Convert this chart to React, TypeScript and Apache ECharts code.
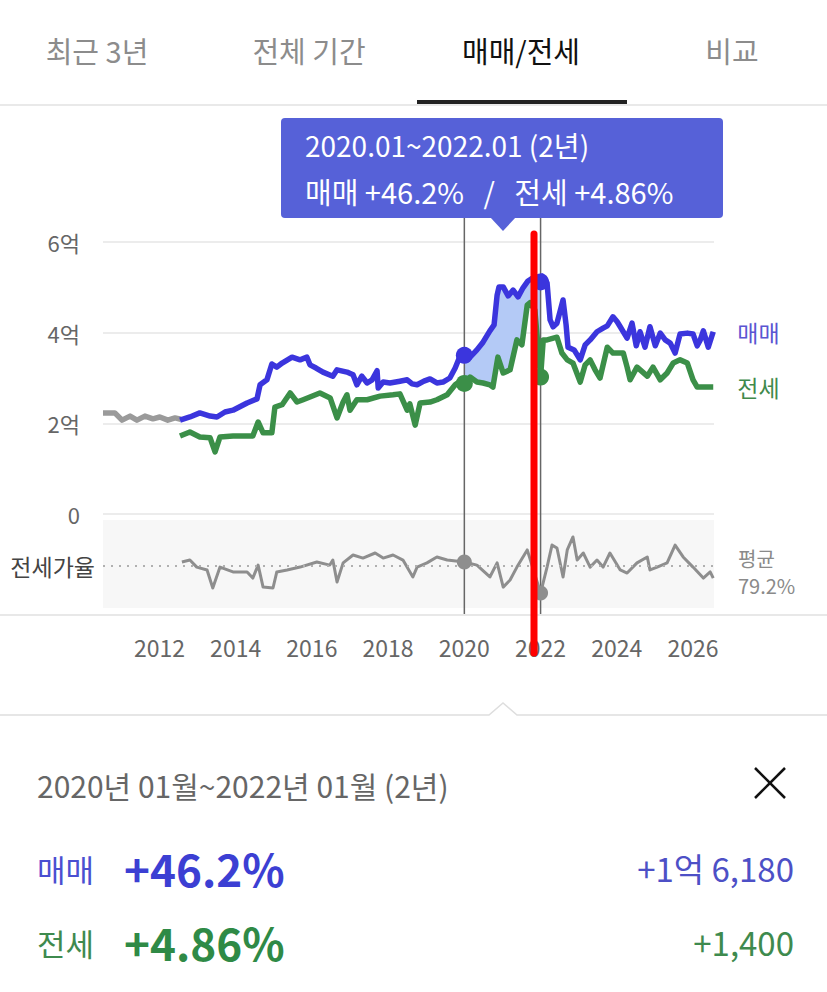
import React, { useEffect, useRef } from "react";
import * as echarts from "echarts";

// 매매 (sale price, 억) — [year, value]
const grayPre: [number, number][] = [
  [2010.52, 2.23], [2010.83, 2.23], [2011.02, 2.07], [2011.23, 2.16], [2011.41, 2.07],
  [2011.62, 2.16], [2011.83, 2.1], [2012.01, 2.14], [2012.22, 2.07], [2012.41, 2.12], [2012.56, 2.09],
];

const maemae: [number, number][] = [
  [2012.54, 2.07], [2012.8, 2.14], [2013.06, 2.23], [2013.33, 2.16], [2013.51, 2.14], [2013.72, 2.25],
  [2013.93, 2.29], [2014.3, 2.45], [2014.56, 2.54], [2014.64, 2.85], [2014.82, 2.96], [2014.95, 3.31],
  [2015.08, 3.24], [2015.22, 3.33], [2015.48, 3.46], [2015.69, 3.4], [2015.87, 3.46], [2015.95, 3.29],
  [2016.11, 3.22], [2016.29, 3.13], [2016.55, 3.04], [2016.66, 3.18], [2016.92, 3.13], [2017.08, 3.07],
  [2017.18, 2.85], [2017.31, 3.04], [2017.45, 2.89], [2017.58, 2.96], [2017.71, 3.16], [2017.74, 2.78],
  [2017.87, 2.91], [2018.05, 2.89], [2018.31, 2.93], [2018.5, 2.96], [2018.63, 2.87], [2018.76, 2.85],
  [2018.94, 2.93], [2019.1, 2.98], [2019.28, 2.89], [2019.44, 2.91], [2019.62, 3.0], [2019.76, 3.22],
  [2019.89, 3.49], [2020.0, 3.5], [2020.15, 3.46], [2020.33, 3.62], [2020.49, 3.79], [2020.67, 4.04],
  [2020.78, 4.17], [2020.86, 4.83], [2020.91, 5.01], [2021.02, 5.01], [2021.15, 4.81], [2021.28, 4.94],
  [2021.41, 4.79], [2021.54, 4.99], [2021.67, 5.14], [2021.8, 5.21], [2022.0, 5.12], [2022.04, 5.25],
  [2022.17, 5.1], [2022.25, 4.28], [2022.33, 4.13], [2022.43, 4.21], [2022.59, 4.72], [2022.67, 4.17],
  [2022.72, 3.68], [2022.88, 3.62], [2023.04, 3.4], [2023.17, 3.73], [2023.3, 3.84], [2023.48, 4.02],
  [2023.64, 4.1], [2023.75, 4.15], [2023.9, 4.35], [2024.01, 4.24], [2024.09, 4.13], [2024.27, 3.88],
  [2024.4, 4.21], [2024.51, 3.71], [2024.61, 4.02], [2024.74, 3.68], [2024.87, 4.13], [2025.01, 3.71],
  [2025.14, 3.99], [2025.27, 3.84], [2025.4, 3.77], [2025.53, 3.55], [2025.66, 3.97], [2025.85, 3.99],
  [2026.0, 3.97], [2026.11, 3.71], [2026.19, 3.84], [2026.27, 4.04], [2026.4, 3.68], [2026.53, 4.02],
];

// 전세 (jeonse, 억)
const jeonse: [number, number][] = [
  [2012.54, 1.72], [2012.8, 1.81], [2013.06, 1.7], [2013.33, 1.68], [2013.46, 1.37], [2013.59, 1.7],
  [2013.93, 1.72], [2014.45, 1.72], [2014.59, 2.03], [2014.72, 1.79], [2014.95, 1.79], [2015.03, 2.36],
  [2015.22, 2.41], [2015.43, 2.67], [2015.61, 2.47], [2015.77, 2.52], [2015.95, 2.58], [2016.21, 2.67],
  [2016.48, 2.56], [2016.66, 2.12], [2016.82, 2.47], [2016.92, 2.63], [2017.0, 2.29], [2017.18, 2.52],
  [2017.45, 2.52], [2017.79, 2.6], [2018.13, 2.63], [2018.31, 2.65], [2018.5, 2.29], [2018.57, 2.43],
  [2018.71, 1.96], [2018.84, 2.45], [2019.1, 2.47], [2019.28, 2.52], [2019.55, 2.63], [2019.76, 2.85],
  [2019.89, 2.93], [2020.0, 2.88], [2020.15, 3.02], [2020.33, 2.91], [2020.49, 2.89], [2020.67, 2.85],
  [2020.75, 2.8], [2020.88, 3.46], [2021.02, 3.11], [2021.2, 3.18], [2021.38, 3.84], [2021.51, 3.73],
  [2021.65, 4.61], [2021.72, 4.66], [2021.85, 4.5], [2022.0, 3.02], [2022.07, 3.84], [2022.17, 3.84],
  [2022.43, 3.9], [2022.56, 3.55], [2022.7, 3.4], [2022.85, 3.33], [2023.04, 2.91], [2023.17, 3.29],
  [2023.3, 3.4], [2023.43, 3.18], [2023.56, 3.0], [2023.75, 3.68], [2023.9, 3.55], [2024.17, 3.55],
  [2024.27, 3.24], [2024.35, 2.96], [2024.53, 3.24], [2024.8, 3.04], [2024.95, 3.24], [2025.14, 2.96],
  [2025.32, 3.11], [2025.48, 3.33], [2025.66, 3.4], [2025.85, 3.33], [2026.0, 2.96], [2026.11, 2.8],
  [2026.53, 2.8],
];

// 전세가율 (%)
const ratio: [number, number][] = [
  [2012.59, 80.9], [2012.8, 81.8], [2012.98, 78.6], [2013.25, 77.3], [2013.4, 69.1], [2013.59, 78.6],
  [2013.93, 76.4], [2014.3, 76.4], [2014.45, 73.6], [2014.59, 79.5], [2014.72, 69.5], [2014.98, 69.1],
  [2015.08, 76.4], [2015.35, 77.3], [2015.69, 78.6], [2016.13, 80.9], [2016.47, 79.5], [2016.55, 81.8],
  [2016.66, 71.8], [2016.82, 80.5], [2017.08, 84.1], [2017.34, 82.7], [2017.66, 85.0], [2017.87, 82.7],
  [2018.13, 84.1], [2018.39, 81.8], [2018.65, 74.1], [2018.76, 78.6], [2019.02, 80.5], [2019.28, 83.2],
  [2019.55, 81.8], [2020.0, 80.9], [2020.33, 79.5], [2020.67, 74.1], [2020.86, 80.5], [2021.02, 69.5],
  [2021.2, 72.7], [2021.38, 78.6], [2021.65, 86.4], [2022.0, 66.8], [2022.17, 78.6], [2022.3, 88.6],
  [2022.43, 87.3], [2022.59, 74.1], [2022.7, 86.4], [2022.85, 92.3], [2022.96, 81.8], [2023.12, 85.0],
  [2023.3, 78.6], [2023.48, 81.8], [2023.64, 78.6], [2023.82, 85.0], [2024.09, 77.3], [2024.27, 75.9],
  [2024.53, 80.5], [2024.8, 83.2], [2024.87, 77.3], [2025.06, 78.6], [2025.32, 80.5], [2025.53, 88.6],
  [2025.74, 83.2], [2026.0, 78.6], [2026.27, 73.6], [2026.45, 76.4], [2026.53, 73.6],
];

const xLabels = [2012, 2014, 2016, 2018, 2020, 2022, 2024, 2026];
const yLabels = [0, 2, 4, 6];
const ratioAvg = 79.2;
const rangeStart = 2020.0;
const rangeEnd = 2022.0;
const tabs = ["최근 3년", "전체 기간", "매매/전세", "비교"];
const activeTab = 2;

const FONT = "'Noto Sans CJK KR', 'Noto Sans', sans-serif";
const BLUE = "#3b35dd";
const GREEN = "#3b8f48";
const GRAY = "#8e8e8e";

const valueAt = (arr: [number, number][], x: number) => arr.find((p) => p[0] === x)![1];

export default function App() {
  const ref = useRef<HTMLDivElement>(null);
  useEffect(() => {
    document.body.style.margin = "0";
    const chart = echarts.init(ref.current!, null, { renderer: "svg" });
    const inRange = (p: [number, number]) => p[0] >= rangeStart && p[0] <= rangeEnd;
    const option: any = {
      animation: false,
      textStyle: { fontFamily: FONT },
      grid: [
        { left: 103, right: 113, top: 242, height: 272 },
        { left: 103, right: 113, top: 520, height: 88, show: true, backgroundColor: "#f7f7f7", borderWidth: 0 },
      ],
      xAxis: [
        {
          gridIndex: 0, type: "value", min: 2010.52, max: 2026.55,
          axisLine: { show: false }, axisTick: { show: false }, axisLabel: { show: false }, splitLine: { show: false },
        },
        {
          gridIndex: 1, type: "value", min: 2010.52, max: 2026.55,
          axisLine: { show: false }, axisTick: { show: false }, splitLine: { show: false },
          axisLabel: {
            customValues: xLabels, formatter: (v: number) => String(v),
            color: "#666", fontSize: 23, margin: 27, fontFamily: FONT,
          },
        },
      ],
      yAxis: [
        {
          gridIndex: 0, type: "value", min: 0, max: 6, interval: 2,
          axisLine: { show: false }, axisTick: { show: false },
          splitLine: { lineStyle: { color: "#e6e6e6", width: 1.5 } },
          axisLabel: {
            customValues: yLabels,
            formatter: (v: number) => (v === 0 ? "0" : v + "억"),
            color: "#666", fontSize: 22, margin: 23, fontFamily: FONT,
          },
        },
        {
          gridIndex: 1, type: "value", min: 60, max: 100,
          axisLine: { show: false }, axisTick: { show: false }, splitLine: { show: false },
          axisLabel: {
            customValues: [ratioAvg], formatter: () => "전세가율",
            color: "#444", fontSize: 23, margin: 8, fontFamily: FONT,
          },
        },
      ],
      series: [
        {
          type: "custom", xAxisIndex: 0, yAxisIndex: 0, z: 1, silent: true,
          data: [[2021, 4]],
          renderItem: (_p: any, api: any) => {
            const top = maemae.filter(inRange).map((p) => api.coord(p));
            const bottom = jeonse.filter(inRange).reverse().map((p) => api.coord(p));
            return { type: "polygon", shape: { points: top.concat(bottom) }, style: { fill: "#b4caf6" } };
          },
        },
        {
          type: "line", data: grayPre, showSymbol: false, z: 3,
          lineStyle: { color: "#9a9a9a", width: 5.5, join: "round" },
        },
        {
          type: "line", data: jeonse, showSymbol: false, z: 4,
          lineStyle: { color: GREEN, width: 5.5, join: "round" }, itemStyle: { color: GREEN },
          endLabel: { show: true, formatter: "전세", color: "#3f8a4c", fontSize: 23, distance: 24, fontFamily: FONT },
        },
        {
          type: "line", data: maemae, showSymbol: false, z: 5,
          lineStyle: { color: BLUE, width: 5.5, join: "round" }, itemStyle: { color: BLUE },
          endLabel: { show: true, formatter: "매매", color: "#5a55d2", fontSize: 23, distance: 24, fontFamily: FONT },
        },
        {
          type: "scatter", z: 6, symbolSize: 17, itemStyle: { color: BLUE, opacity: 1 },
          data: [[rangeStart, valueAt(maemae, rangeStart)], [rangeEnd, valueAt(maemae, rangeEnd)]],
        },
        {
          type: "scatter", z: 6, symbolSize: 17, itemStyle: { color: GREEN, opacity: 1 },
          data: [[rangeStart, valueAt(jeonse, rangeStart)], [rangeEnd, valueAt(jeonse, rangeEnd)]],
        },
        {
          type: "line", xAxisIndex: 1, yAxisIndex: 1, data: ratio, showSymbol: false, z: 4,
          lineStyle: { color: GRAY, width: 3, join: "round" },
          markLine: {
            silent: true, symbol: "none",
            lineStyle: { color: "#b0b0b0", type: [2, 6], width: 2 },
            data: [{ yAxis: ratioAvg }],
            label: { show: false },
          },
        },
        {
          type: "scatter", xAxisIndex: 1, yAxisIndex: 1, z: 6, symbolSize: 15, itemStyle: { color: GRAY, opacity: 1 },
          data: [[rangeStart, valueAt(ratio, rangeStart)], [rangeEnd, valueAt(ratio, rangeEnd)]],
        },
      ],
    };
    chart.setOption(option);

    const x0 = chart.convertToPixel({ xAxisIndex: 0 }, rangeStart) as number;
    const x1 = chart.convertToPixel({ xAxisIndex: 0 }, rangeEnd) as number;
    const xEnd = chart.convertToPixel({ xAxisIndex: 1 }, 2026.55) as number;
    const yAvg = chart.convertToPixel({ yAxisIndex: 1 }, ratioAvg) as number;

    const txt = (x: number, y: number, text: string, size: number, fill: string, extra: any = {}) => ({
      type: "text", x, y,
      style: { text, fontSize: size, fill, fontFamily: FONT, verticalAlign: "middle", textAlign: "left", ...extra },
    });

    const tabX = [97, 309, 521, 732];
    const graphic: any[] = [
      ...tabs.map((t, i) =>
        txt(tabX[i], 50, t, 29, i === activeTab ? "#111" : "#8c8c8c", { textAlign: "center" })
      ),
      { type: "line", shape: { x1: 0, y1: 105, x2: 827, y2: 105 }, style: { stroke: "#e2e2e2", lineWidth: 1.5 } },
      { type: "rect", shape: { x: 417, y: 100, width: 210, height: 4 }, style: { fill: "#222" } },
      // tooltip box
      { type: "rect", shape: { x: 281, y: 118, width: 442, height: 100, r: 4 }, style: { fill: "#5661d8" }, z: 10 },
      { type: "polygon", shape: { points: [[490, 217], [516, 217], [503, 231]] }, style: { fill: "#5661d8" }, z: 10 },
      { ...txt(305, 145, "2020.01~2022.01 (2년)", 28, "#fff"), z: 11 },
      { ...txt(305, 191, "매매 +46.2%   /   전세 +4.86%", 29, "#fff"), z: 11 },
      // average ratio label
      txt(xEnd + 24, yAvg - 7, "평균", 20, "#8a8a8a", { lineHeight: 22 }),
      txt(xEnd + 24, yAvg + 20, ratioAvg + "%", 20, "#8a8a8a", { lineHeight: 22 }),
      // vertical range lines
      { type: "line", z: 1, shape: { x1: x0, y1: 218, x2: x0, y2: 614 }, style: { stroke: "#666", lineWidth: 1.5 } },
      { type: "line", z: 1, shape: { x1: x1, y1: 218, x2: x1, y2: 614 }, style: { stroke: "#666", lineWidth: 1.5 } },
      // bottom of chart panel
      { type: "line", shape: { x1: 0, y1: 615, x2: 827, y2: 615 }, style: { stroke: "#e8e8e8", lineWidth: 2 } },
      {
        type: "polyline",
        shape: { points: [[0, 715], [489, 715], [503, 703], [517, 715], [827, 715]] },
        style: { stroke: "#dedede", lineWidth: 1.5, fill: "none" },
      },
      // detail panel
      txt(37, 785, "2020년 01월~2022년 01월 (2년)", 30, "#666"),
      { type: "line", shape: { x1: 755, y1: 768, x2: 785, y2: 798 }, style: { stroke: "#111", lineWidth: 2.5 } },
      { type: "line", shape: { x1: 785, y1: 768, x2: 755, y2: 798 }, style: { stroke: "#111", lineWidth: 2.5 } },
      txt(37, 868, "매매", 31, "#4a4fd1"),
      txt(124, 868, "+46.2%", 44, "#3c3fd3", { fontWeight: "bold" }),
      txt(794, 868, "+1억 6,180", 33, "#4d50c6", { textAlign: "right" }),
      txt(37, 942, "전세", 31, "#3e8a4e"),
      txt(124, 942, "+4.86%", 44, "#2f8a46", { fontWeight: "bold" }),
      txt(794, 942, "+1,400", 33, "#3e8a4e", { textAlign: "right" }),
      // red annotation line
      { type: "line", z: 100, shape: { x1: 534, y1: 234, x2: 534, y2: 653 }, style: { stroke: "#ff0000", lineWidth: 7, lineCap: "round" } },
    ];
    chart.setOption({ graphic });

    return () => chart.dispose();
  }, []);
  return <div ref={ref} style={{ position: "absolute", left: 0, top: 0, width: 827, height: 992 }} />;
}
